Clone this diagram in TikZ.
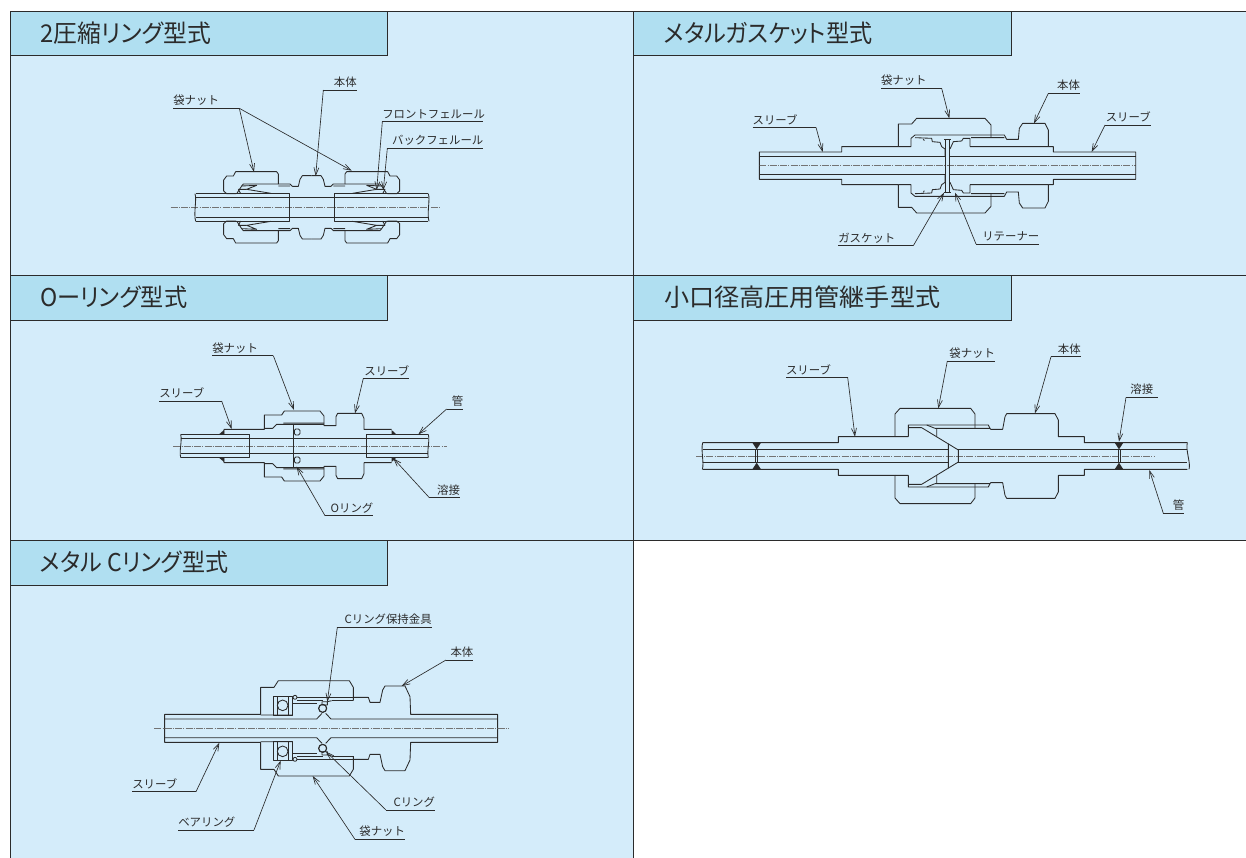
\documentclass[tikz,border=0pt]{standalone}
\usepackage{fontspec}
\setmainfont{Noto Sans CJK JP}
\newfontfamily\titlefont[RawFeature={+palt}]{Noto Sans CJK JP}
\usetikzlibrary{arrows.meta}
\definecolor{panelblue}{HTML}{D4ECFA}
\definecolor{headblue}{HTML}{B0DFF1}
\definecolor{inkdark}{HTML}{2B2B2B}
\tikzset{
  panelbox/.style={fill=panelblue,draw=inkdark,line width=1pt},
  headbox/.style={fill=headblue,draw=inkdark,line width=.8pt},
  titletext/.style={inner sep=0pt,anchor=west,text=inkdark,font=\titlefont\fontsize{24.5}{26}\selectfont},
  labeltext/.style={inner xsep=0pt,inner ysep=2.6pt,outer sep=0pt,anchor=south west,text=inkdark,font=\fontsize{11.4}{13}\selectfont},
  part/.style={draw=inkdark,line width=.85pt,line join=round},
  ldr/.style={draw=inkdark,line width=.65pt},
  tipped/.style={ldr,-{Straight Barb[length=7.5pt,width=5pt]}},
  cline/.style={draw=black!55,line width=.5pt,dash pattern=on 7pt off 1.2pt on 1pt off 1.2pt},
  solidblack/.style={fill=inkdark,draw=none},
}
% #1 name, #2 x1, #3 x2, #4 y of underline, #5 alignment, #6 text
\newcommand\leaderlabel[6]{%
  \pgfmathsetlengthmacro{\labw}{(#3-#2)/3*1pt}%
  \node[labeltext,text width=\labw,align=#5] (#1) at (#2,#4) {#6};
  \draw[ldr] (#1.south west) -- (#1.south east);
}
\newcommand\mirY[2]{#2\begin{scope}[shift={(0,2*#1)},yscale=-1]#2\end{scope}}
\newcommand\mirX[2]{#2\begin{scope}[shift={(2*#1,0)},xscale=-1]#2\end{scope}}
\begin{document}
\begin{tikzpicture}[x=1pt,y=-1pt]
\useasboundingbox (0,0) rectangle (1246,857);
\fill[white] (0,0) rectangle (1246,857);
% panels
\path[panelbox] (10,11) rectangle (633,275);
\path[panelbox] (633,11) rectangle (1250,275);
\path[panelbox] (10,275) rectangle (633,540);
\path[panelbox] (633,275) rectangle (1250,540);
\path[panelbox] (10,540) rectangle (633,862);
% headers
\path[headbox] (10,11) rectangle (387,55);
\path[headbox] (633,11) rectangle (1011,55);
\path[headbox] (10,275) rectangle (387,320);
\path[headbox] (633,275) rectangle (1011,320);
\path[headbox] (10,540) rectangle (387,585);
\node[titletext] (t1) at (40,33) {\resizebox{171pt}{\height}{2圧縮リング型式}};
\node[titletext] (t2) at (664,33) {\resizebox{208pt}{\height}{メタルガスケット型式}};
\node[titletext] (t3) at (40,297) {\resizebox{147pt}{\height}{Oーリング型式}};
\node[titletext] (t4) at (664,297) {\resizebox{276pt}{\height}{小口径高圧用管継手型式}};
\node[titletext] (t5) at (40,562) {\resizebox{188pt}{\height}{メタル Cリング型式}};

% ---------- panel 1
\begin{scope}[shift={(150,80)},scale=1/3]
\draw[cline] (62,382) -- (868,382);
\mirX{485}{\mirY{382}{%
  \draw[part] (258,341) -- (230,341) -- (221,333) -- (221,300) -- (230,288) -- (250,288) -- (257,275) -- (380,275) -- (385,282) -- (385,312);
  \draw[part] (260,341) -- (275,318) -- (280,312) -- (420,312) -- (427,319) -- (445,319) -- (450,298) -- (457,287) -- (485,287);
  \draw[part] (275,318) -- (320,316) -- (290,328) -- (363,340) (385,318) -- (420,318);
  \draw[part] (265,328) -- (290,328) (265,328) -- (272,341);
  \draw[part] (137,341) -- (418,341) -- (418,382) (137,352) -- (485,352);
}}
\draw[part] (135,341) .. controls (141,360) and (130,400) .. (137,424);
\draw[part] (835,341) .. controls (841,360) and (830,400) .. (837,424);
\leaderlabel{a1}{70}{268}{85}{left}{袋ナット}
\leaderlabel{a2}{520}{620}{30}{right}{本体}
\leaderlabel{a3}{697}{1000}{125}{right}{フロントフェルール}
\leaderlabel{a4}{712}{1000}{205}{right}{バックフェルール}
\coordinate (a1t) at (312,276); \coordinate (a1u) at (605,272);
\coordinate (a2t) at (497,288); \coordinate (a3t) at (680,330); \coordinate (a4t) at (700,330);
\draw[tipped] (a1.south east) -- (a1t);
\draw[tipped] (a1.south east) -- (a1u);
\draw[tipped] (a2.south west) -- (a2t);
\draw[tipped] (a3.south west) -- (a3t);
\draw[tipped] (a4.south west) -- (a4t);
\end{scope}

% ---------- panel 2
\begin{scope}[shift={(740,70)},scale=1/3]
\draw[cline] (58,287) -- (1187,287);
\mirY{287}{%
  \draw[part] (58,287) -- (58,246) -- (305,246) -- (305,230) -- (475,230) -- (475,162) -- (515,162) -- (530,145) -- (735,145) -- (753,165) -- (753,203);
  \draw[part] (513,230) -- (475,230) (513,230) -- (513,205) -- (525,195) -- (793,195) -- (800,208) -- (835,208) -- (838,175) -- (848,160) -- (915,160) -- (925,180) -- (925,230) -- (940,230) -- (940,246) -- (1187,246) -- (1187,287);
  \draw[part] (690,230) -- (925,230) (690,230) -- (690,205) -- (670,205) -- (665,213) -- (640,215) -- (630,237) (693,203) -- (793,203);
  \draw[part] (525,203) -- (575,205) -- (577,215) -- (600,217) -- (605,230) -- (615,237) -- (615,260);
  \draw[part] (550,207) -- (553,212);
  \draw[part] (58,260) -- (617,260) (628,260) -- (1187,260);
  \draw[part,line width=1.1pt] (617,207) -- (617,287) (628,207) -- (628,287);
  \draw[part] (613,207) -- (632,207);
}
\leaderlabel{b1}{423}{605}{55}{left}{袋ナット}
\leaderlabel{b2}{925}{1020}{70}{right}{本体}
\leaderlabel{b3}{38}{228}{172}{left}{スリーブ}
\leaderlabel{b4}{1095}{1232}{165}{right}{スリーブ}
\leaderlabel{b5}{295}{520}{527}{left}{ガスケット}
\leaderlabel{b6}{708}{898}{522}{right}{リテーナー}
\coordinate (b1t) at (628,145); \coordinate (b2t) at (882,160); \coordinate (b3t) at (248,246);
\coordinate (b4t) at (1055,246); \coordinate (b5t) at (612,368); \coordinate (b6t) at (645,368);
\draw[tipped] (b1.south east) -- (b1t);
\draw[tipped] (b2.south west) -- (b2t);
\draw[tipped] (b3.south east) -- (b3t);
\draw[tipped] (b4.south west) -- (b4t);
\draw[tipped] (b5.south east) -- (b5t);
\draw[tipped] (b6.south west) -- (b6t);
\end{scope}

% ---------- panel 3
\begin{scope}[shift={(150,335)},scale=1/3]
\draw[cline] (70,333) -- (890,333);
\mirY{333}{%
  \draw[part] (222,298) -- (222,283) -- (343,283) -- (343,240) -- (395,240) -- (403,228) -- (510,228) -- (522,243) -- (522,272) -- (558,272) -- (558,245) -- (563,235) -- (635,235) -- (642,250) -- (642,283) -- (725,283);
  \draw[part] (343,280) -- (368,280) -- (380,268) -- (522,268) (400,264) -- (522,264);
  \draw[part] (92,298) -- (298,298) -- (298,333) (92,310) -- (835,310) (650,333) -- (650,298) -- (835,298);
  \draw[part] (430,268) -- (430,333);
  \draw[part,rounded corners=1.5pt] (433,282) rectangle (450,300);
  \fill[solidblack] (207,298) -- (222,285) -- (222,298) -- cycle;
  \fill[solidblack] (725,285) -- (739,298) -- (725,298) -- cycle;
}
\draw[part] (92,298) .. controls (97,320) and (87,345) .. (92,368);
\draw[part] (835,298) .. controls (840,320) and (830,345) .. (835,368);
\leaderlabel{c1}{187}{370}{62}{left}{袋ナット}
\leaderlabel{c2}{640}{778}{130}{right}{スリーブ}
\leaderlabel{c3}{28}{215}{198}{left}{スリーブ}
\leaderlabel{c4}{890}{940}{222}{right}{管}
\leaderlabel{c5}{838}{930}{488}{right}{溶接}
\leaderlabel{c6}{525}{670}{542}{right}{Oリング}
\coordinate (c1t) at (432,225); \coordinate (c2t) at (615,235); \coordinate (c3t) at (245,282);
\coordinate (c4t) at (805,298); \coordinate (c5t) at (730,370); \coordinate (c6t) at (440,395);
\draw[tipped] (c1.south east) -- (c1t);
\draw[tipped] (c2.south west) -- (c2t);
\draw[tipped] (c3.south east) -- (c3t);
\draw[tipped] (c4.south west) -- (c4t);
\draw[tipped] (c5.south west) -- (c5t);
\draw[tipped] (c6.south west) -- (c6t);
\end{scope}

% ---------- panel 4
\begin{scope}[shift={(690,335)},scale=1/3]
\draw[cline] (18,363) -- (1395,363);
\mirY{363}{%
  \draw[part] (38,323) -- (445,323) -- (445,305) -- (615,305) -- (615,237) -- (630,220) -- (842,220) -- (855,237) -- (855,280);
  \draw[part] (655,305) -- (655,270) -- (895,270) -- (900,280) -- (902,283) -- (938,283) -- (945,245) -- (950,236) -- (1095,236) -- (1105,255) -- (1105,305) -- (1183,305) -- (1183,323) -- (1492,323);
  \draw[part] (615,305) -- (655,305) (655,278) -- (695,278) -- (805,345) -- (805,363) (775,325) -- (775,363);
  \draw[part] (735,280) -- (900,280) (710,270) -- (735,280) (740,280) -- (740,305);
  \draw[part] (38,343) -- (775,343) (805,343) -- (1492,343);
  \draw[part] (197,343) -- (197,363) (203,343) -- (203,363) (1284,343) -- (1284,363) (1290,343) -- (1290,363);
  \fill[solidblack] (187,323) -- (213,323) -- (200,343) -- cycle;
  \fill[solidblack] (1274,323) -- (1300,323) -- (1287,343) -- cycle;
}
\draw[part] (38,323) .. controls (32,345) and (43,385) .. (37,403);
\draw[part] (1492,323) .. controls (1486,345) and (1503,385) .. (1497,403);
\leaderlabel{d1}{288}{473}{127}{left}{スリーブ}
\leaderlabel{d2}{772}{915}{78}{right}{袋ナット}
\leaderlabel{d3}{1083}{1172}{65}{right}{本体}
\leaderlabel{d4}{1308}{1403}{187}{center}{溶接}
\leaderlabel{d5}{1420}{1483}{535}{right}{管}
\coordinate (d1t) at (495,305); \coordinate (d2t) at (745,220); \coordinate (d3t) at (1035,235);
\coordinate (d4t) at (1287,320); \coordinate (d5t) at (1378,405);
\draw[tipped] (d1.south east) -- (d1t);
\draw[tipped] (d2.south west) -- (d2t);
\draw[tipped] (d3.south west) -- (d3t);
\draw[tipped] (d4.south west) -- (d4t);
\draw[tipped] (d5.south west) -- (d5t);
\end{scope}

% ---------- panel 5
\begin{scope}[shift={(120,610)},scale=1/3]
\draw[cline] (103,355) -- (1168,355);
\mirY{355}{%
  \draw[part] (134,355) -- (134,313) -- (422,313) -- (422,232) -- (462,232) -- (475,212) -- (688,212) -- (700,232) -- (700,272) (700,262) -- (745,262) -- (750,277) -- (780,277) -- (788,240) -- (795,228) -- (855,228) -- (870,260) -- (872,313) -- (1133,313) -- (1133,355);
  \draw[part] (460,260) rectangle (517,315) (472,260) -- (472,315) (505,260) -- (505,315);
  \draw[part] (488,286) circle[radius=16];
  \draw[part] (525,262) circle[radius=6];
  \draw[part] (532,272) -- (610,272) (530,262) -- (700,262) (517,280) -- (590,280) (635,272) -- (700,272);
  \draw[part] (422,315) -- (517,315) (134,327) -- (590,327) -- (606,310) (617,310) -- (633,327) -- (1133,327);
  \draw[part,line width=1.2pt] (608,295) circle[radius=12];
  \draw[part] (606,275) rectangle (622,285) (622,275) -- (635,272);
}
\leaderlabel{e1}{652}{935}{52}{right}{Cリング保持金具}
\leaderlabel{e2}{978}{1060}{150}{right}{本体}
\leaderlabel{e3}{37}{228}{545}{left}{スリーブ}
\leaderlabel{e4}{175}{402}{660}{left}{ベアリング}
\leaderlabel{e5}{798}{945}{600}{right}{Cリング}
\leaderlabel{e6}{705}{855}{688}{right}{袋ナット}
\coordinate (e1t) at (622,275); \coordinate (e2t) at (845,228); \coordinate (e3t) at (298,398);
\coordinate (e4t) at (482,452); \coordinate (e5t) at (618,425); \coordinate (e6t) at (578,498);
\draw[tipped] (e1.south west) -- (e1t);
\draw[tipped] (e2.south west) -- (e2t);
\draw[tipped] (e3.south east) -- (e3t);
\draw[tipped] (e4.south east) -- (e4t);
\draw[tipped] (e5.south west) -- (e5t);
\draw[tipped] (e6.south west) -- (e6t);
\end{scope}
\end{tikzpicture}
\end{document}
